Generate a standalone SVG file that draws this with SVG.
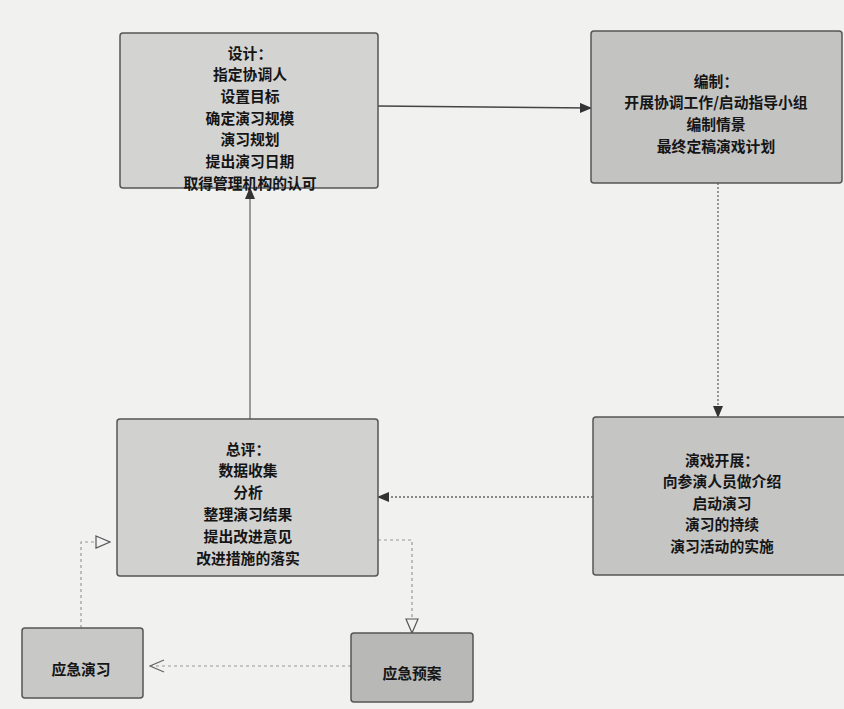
<svg xmlns="http://www.w3.org/2000/svg" width="844" height="709" viewBox="0 0 844 709">
<style>
.box{stroke:#555;stroke-width:1.5}
.t{font-family:"Noto Sans CJK SC","Noto Sans",sans-serif;font-size:14.8px;font-weight:bold;fill:#151515;text-anchor:middle;dominant-baseline:central}
.solid{stroke:#444;stroke-width:1.5;fill:none}
.dot{stroke:#666;stroke-width:1.3;fill:none;stroke-dasharray:2 2}
.dash{stroke:#999;stroke-width:1.2;fill:none;stroke-dasharray:3 3}
</style>
<defs>
<marker id="fill" viewBox="0 0 12 10" refX="11" refY="5" markerWidth="12" markerHeight="10" markerUnits="userSpaceOnUse" orient="auto">
<path d="M0,0 L12,5 L0,10 Z" fill="#333"/>
</marker>
<marker id="open" viewBox="0 0 16 14" refX="15" refY="7" markerWidth="16" markerHeight="14" markerUnits="userSpaceOnUse" orient="auto">
<path d="M1,1 L15,7 L1,13 Z" fill="#f2f2f2" stroke="#555" stroke-width="1.2"/>
</marker>
<marker id="vee" viewBox="0 0 16 14" refX="15" refY="7" markerWidth="16" markerHeight="14" markerUnits="userSpaceOnUse" orient="auto">
<path d="M1,1 L15,7 L1,13" fill="none" stroke="#666" stroke-width="1.2"/>
</marker>
</defs>
<rect width="844" height="709" fill="#f1f1f0"/>
<g id="connectors">
<path class="solid" d="M378,106 L591,108" marker-end="url(#fill)"/>
<path class="dot" d="M718,183 L718,417" marker-end="url(#fill)"/>
<path class="dot" d="M593,497 L378,497" marker-end="url(#fill)"/>
<path class="solid" style="stroke-width:1" d="M250,419 L250,188" marker-end="url(#fill)"/>
<path class="dash" d="M378,540 L412,540 L412,633" marker-end="url(#open)"/>
<path class="dash" d="M351,666 L150,666" marker-end="url(#vee)"/>
<path class="dash" d="M81,628 L81,542 L110,542" marker-end="url(#open)"/>
</g>
<g id="design">
<rect class="box" x="120" y="33" width="258" height="155" rx="3" fill="#d3d3d2"/>
<text class="t" x="250" y="52">设计：</text>
<text class="t" x="250" y="73.7">指定协调人</text>
<text class="t" x="250" y="95.3">设置目标</text>
<text class="t" x="250" y="117">确定演习规模</text>
<text class="t" x="250" y="138.7">演习规划</text>
<text class="t" x="250" y="160.3">提出演习日期</text>
<text class="t" x="250" y="182">取得管理机构的认可</text>
</g>
<g id="compile">
<rect class="box" x="591" y="31" width="251" height="152" rx="3" fill="#c3c3c2"/>
<text class="t" x="716" y="80">编制：</text>
<text class="t" x="716" y="101.7">开展协调工作/启动指导小组</text>
<text class="t" x="716" y="123.3">编制情景</text>
<text class="t" x="716" y="145">最终定稿演戏计划</text>
</g>
<g id="conduct">
<rect class="box" x="593" y="417" width="260" height="158" rx="3" fill="#c5c5c4"/>
<text class="t" x="722" y="459">演戏开展：</text>
<text class="t" x="722" y="480.5">向参演人员做介绍</text>
<text class="t" x="722" y="502">启动演习</text>
<text class="t" x="722" y="523.5">演习的持续</text>
<text class="t" x="722" y="545">演习活动的实施</text>
</g>
<g id="review">
<rect class="box" x="117" y="419" width="261" height="157" rx="3" fill="#d1d1d0"/>
<text class="t" x="248" y="448">总评：</text>
<text class="t" x="248" y="469.8">数据收集</text>
<text class="t" x="248" y="491.6">分析</text>
<text class="t" x="248" y="513.4">整理演习结果</text>
<text class="t" x="248" y="535.2">提出改进意见</text>
<text class="t" x="248" y="557">改进措施的落实</text>
</g>
<g id="drill">
<rect class="box" x="22" y="628" width="121" height="70" rx="3" fill="#c8c8c7"/>
<text class="t" x="81" y="668">应急演习</text>
</g>
<g id="plan">
<rect class="box" x="351" y="633" width="122" height="69" rx="3" fill="#b8b8b7"/>
<text class="t" x="412" y="672">应急预案</text>
</g>
</svg>
